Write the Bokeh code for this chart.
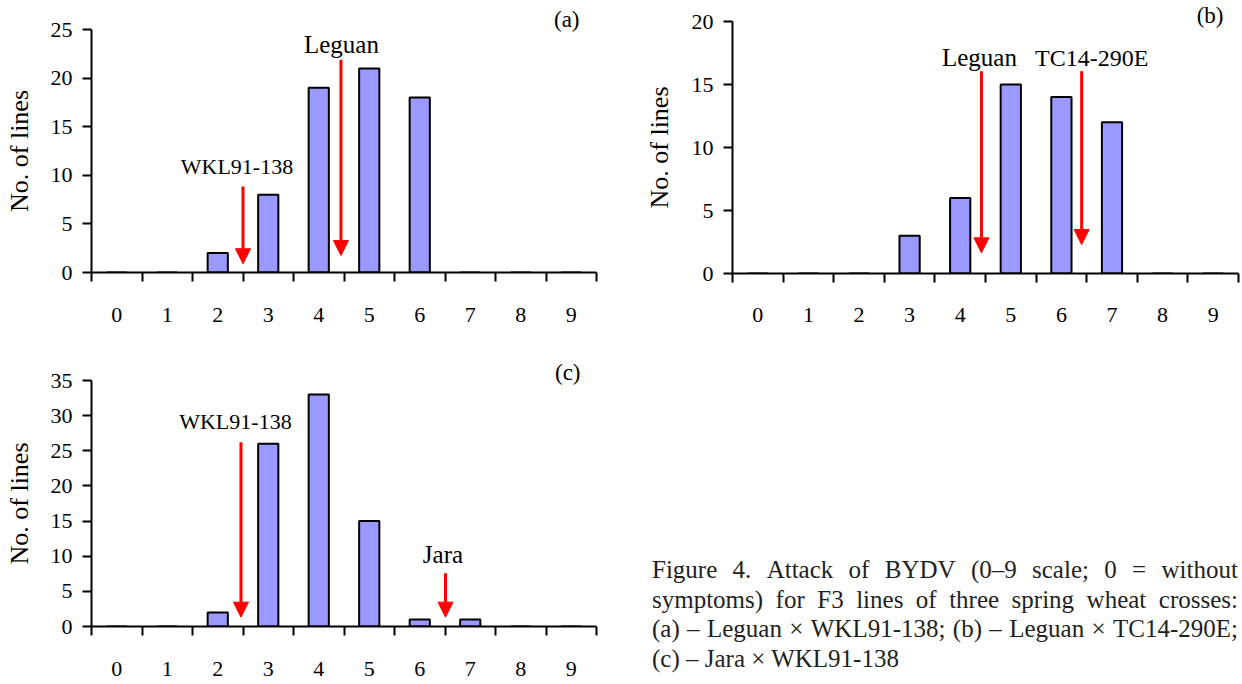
from bokeh.plotting import figure
from bokeh.models import (Range1d, FixedTicker, Arrow, NormalHead, Label, Div,
                          ColumnDataSource, Title)
from bokeh.layouts import row, column
from bokeh.embed import file_html
from bokeh.resources import INLINE

# ---------------- data ----------------
scores = [0, 1, 2, 3, 4, 5, 6, 7, 8, 9]
score_labels = ["0", "1", "2", "3", "4", "5", "6", "7", "8", "9"]

lines_a = [0, 0, 2, 8, 19, 21, 18, 0, 0, 0]
lines_b = [0, 0, 0, 3, 6, 15, 14, 12, 0, 0]
lines_c = [0, 0, 2, 26, 33, 15, 1, 1, 0, 0]

yticks_a = [0, 5, 10, 15, 20, 25]
yticks_b = [0, 5, 10, 15, 20]
yticks_c = [0, 5, 10, 15, 20, 25, 30, 35]

parents_a = ["WKL91-138", "Leguan"]
parent_scores_a = [2.5, 4.44]
parents_b = ["Leguan", "TC14-290E"]
parent_scores_b = [4.42, 6.4]
parents_c = ["WKL91-138", "Jara"]
parent_scores_c = [2.46, 6.51]

panel_tags = ["(a)", "(b)", "(c)"]
y_title = "No. of lines"

caption_lines = [
    "Figure 4. Attack of BYDV (0\u20139 scale; 0 = without",
    "symptoms) for F3 lines of three spring wheat crosses:",
    "(a) \u2013 Leguan \u00d7 WKL91-138; (b) \u2013 Leguan \u00d7 TC14-290E;",
    "(c) \u2013 Jara \u00d7 WKL91-138",
]

# ---------------- styling / layout ----------------
FONT = "Liberation Serif"
BAR_FILL = "#9999FF"
LABEL_SIZES = {"WKL91-138": "22px", "Leguan": "25px", "TC14-290E": "24px",
               "Jara": "25px"}


def make_panel(counts, yticks, parents, parent_scores, tag, *, width, height,
               borders, arrow_top, arrow_tip, label_pos, tag_offset,
               tag_standoff, x_standoff, title_standoff):
    left, right, top, bottom = borders
    p = figure(width=width, height=height, output_backend="svg",
               toolbar_location=None, tools="", title=None,
               x_range=Range1d(0, len(scores)),
               y_range=Range1d(0, yticks[-1]),
               min_border_left=left, min_border_right=right,
               min_border_top=top, min_border_bottom=bottom)
    p.outline_line_color = None
    p.grid.visible = False
    p.background_fill_color = "white"
    p.border_fill_color = "white"

    src = ColumnDataSource(dict(x=[s + 0.5 for s in scores], top=counts))
    p.vbar(x="x", top="top", width=0.4, bottom=0, source=src,
           fill_color=BAR_FILL, line_color="black", line_width=2)

    # x axis: labels at category centres, ticks at category boundaries
    xa = p.xaxis[0]
    xa.ticker = FixedTicker(ticks=[s + 0.5 for s in scores],
                            minor_ticks=list(range(len(scores) + 1)))
    xa.major_label_overrides = {s + 0.5: lab for s, lab in zip(scores, score_labels)}
    xa.major_tick_out = 0
    xa.major_tick_in = 0
    xa.minor_tick_out = 9
    xa.minor_tick_in = 0
    xa.minor_tick_line_width = 2
    xa.minor_tick_line_color = "black"
    xa.axis_line_width = 2
    xa.axis_line_color = "black"
    xa.major_label_standoff = x_standoff
    xa.major_label_text_font = FONT
    xa.major_label_text_font_size = "22px"
    xa.major_label_text_color = "black"

    ya = p.yaxis[0]
    ya.ticker = FixedTicker(ticks=yticks, minor_ticks=[])
    ya.major_tick_out = 9
    ya.major_tick_in = 0
    ya.major_tick_line_width = 2
    ya.major_tick_line_color = "black"
    ya.minor_tick_out = 0
    ya.minor_tick_in = 0
    ya.axis_line_width = 2
    ya.axis_line_color = "black"
    ya.major_label_standoff = 10
    ya.major_label_text_font = FONT
    ya.major_label_text_font_size = "22px"
    ya.major_label_text_color = "black"
    ya.axis_label = y_title
    ya.axis_label_text_font = FONT
    ya.axis_label_text_font_size = "26px"
    ya.axis_label_text_font_style = "normal"
    ya.axis_label_text_color = "black"
    ya.axis_label_standoff = title_standoff

    # parent arrows
    asrc = ColumnDataSource(dict(x=[s + 0.5 for s in parent_scores],
                                 y0=arrow_top, y1=arrow_tip))
    p.add_layout(Arrow(x_start="x", y_start="y0", x_end="x", y_end="y1",
                       source=asrc, line_color="red", line_width=3,
                       end=NormalHead(size=15, fill_color="red",
                                      line_color="red", line_width=1)))
    for name, (lx, ly) in zip(parents, label_pos):
        p.add_layout(Label(x=lx, y=ly, text=name, text_align="center",
                           text_baseline="alphabetic", text_font=FONT,
                           text_font_size=LABEL_SIZES[name],
                           text_color="black", level="overlay"))
    # panel tag as a right-aligned title just above / at the frame top
    p.add_layout(Title(text=tag, align="right", vertical_align="bottom",
                       offset=tag_offset, standoff=tag_standoff,
                       text_font=FONT, text_font_size="23px",
                       text_font_style="normal", text_color="black"), "above")
    return p


pa = make_panel(lines_a, yticks_a, parents_a, parent_scores_a, panel_tags[0],
                width=620, height=338, borders=(91, 24, 29, 66),
                arrow_top=[8.85, 21.9], arrow_tip=[0.9, 1.75],
                label_pos=[(2.88, 10.9), (4.95, 23.46)],
                tag_offset=17, tag_standoff=-5,
                x_standoff=26, title_standoff=14)
pb = make_panel(lines_b, yticks_b, parents_b, parent_scores_b, panel_tags[1],
                width=622, height=338, borders=(112, 4, 21, 65),
                arrow_top=[16.06, 16.06], arrow_tip=[1.64, 2.3],
                label_pos=[(4.88, 17.14), (7.10, 17.14)],
                tag_offset=15, tag_standoff=-12,
                x_standoff=25, title_standoff=15)
pc = make_panel(lines_c, yticks_c, parents_c, parent_scores_c, panel_tags[2],
                width=620, height=346, borders=(91, 24, 42, 58),
                arrow_top=[26.2, 7.58], arrow_tip=[1.33, 1.33],
                label_pos=[(2.85, 29.2), (6.96, 10.24)],
                tag_offset=16, tag_standoff=-9,
                x_standoff=26, title_standoff=14)

# caption (justified lines)
line_h = "29.7px"
parts = []
for i, ln in enumerate(caption_lines):
    if i < len(caption_lines) - 1:
        spans = "".join(f"<span>{w}</span>" for w in ln.split(" "))
        parts.append(
            f'<div style="display:flex;justify-content:space-between;column-gap:5px;'
            f'white-space:nowrap;height:{line_h};line-height:{line_h}">{spans}</div>')
    else:
        parts.append(f'<div style="white-space:nowrap;height:{line_h};'
                     f'line-height:{line_h}">{ln}</div>')
caption_html = (
    '<div style="position:relative;width:622px;height:346px;overflow:hidden;'
    f"font-family:'{FONT}';font-size:25px;color:#231f20;background:white\">"
    '<div style="position:absolute;left:32px;top:217px;width:586px">'
    + "".join(parts) + "</div></div>")
cap = Div(text=caption_html, width=622, height=346,
          styles={"overflow": "hidden", "margin": "0", "padding": "0"})

layout = row(column(pa, pc), column(pb, cap))
open("out.html", "w").write(file_html(layout, INLINE))
